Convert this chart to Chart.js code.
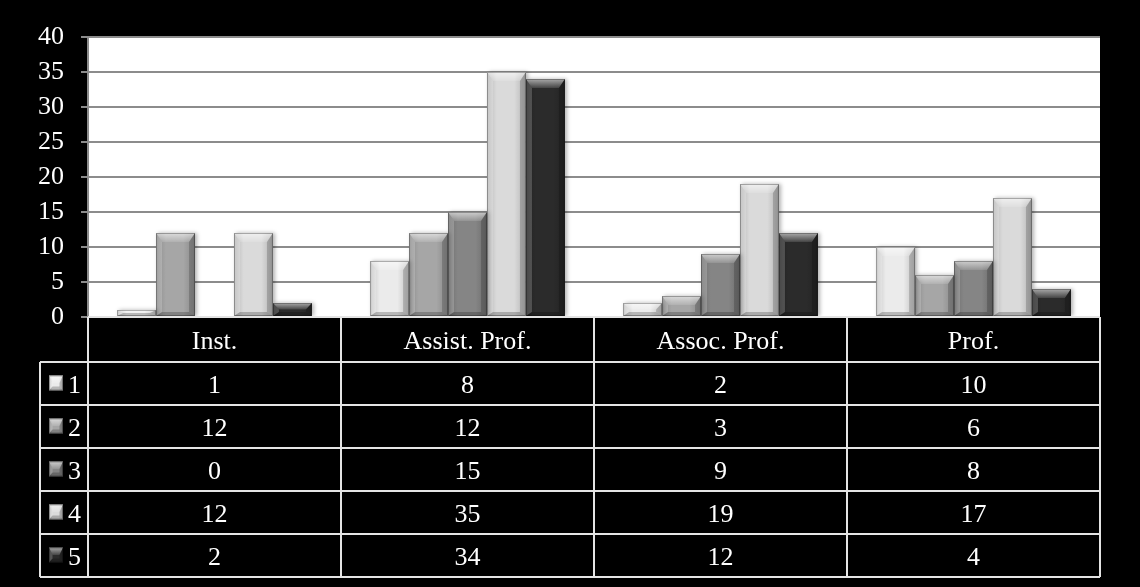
<!DOCTYPE html>
<html>
<head>
<meta charset="utf-8">
<script src="https://cdn.jsdelivr.net/npm/chart.js@4.4.1/dist/chart.umd.min.js"></script>
<style>
  html, body { margin: 0; padding: 0; background: #000; }
  #wrap { width: 1140px; height: 587px; }
</style>
</head>
<body>
<div id="wrap"><canvas id="chartRanks"></canvas></div>
<script>
const categories = ["Inst.", "Assist. Prof.", "Assoc. Prof.", "Prof."];
const seriesNames = ["1", "2", "3", "4", "5"];
const series1 = [1, 8, 2, 10];
const series2 = [12, 12, 3, 6];
const series3 = [0, 15, 9, 8];
const series4 = [12, 35, 19, 17];
const series5 = [2, 34, 12, 4];
const yTickValues = [0, 5, 10, 15, 20, 25, 30, 35, 40];

const seriesValues = [series1, series2, series3, series4, series5];
const seriesColors = ["#ebebeb", "#a6a6a6", "#858585", "#dadada", "#2b2b2b"];
const FONT = "26px 'Liberation Serif', 'Times New Roman', serif";

function poly(ctx, pts, fill) {
  ctx.beginPath();
  ctx.moveTo(pts[0][0], pts[0][1]);
  for (let i = 1; i < pts.length; i++) ctx.lineTo(pts[i][0], pts[i][1]);
  ctx.closePath();
  ctx.fillStyle = fill;
  ctx.fill();
}

// beveled facets laid over a filled rectangle
function bevel(ctx, left, top, w, h) {
  if (h < 1 || w < 1) return;
  const right = left + w, bottom = top + h;
  const bt = Math.min(9, h / 2), bs = Math.min(6, w / 4), bb = Math.min(4, h / 2);
  ctx.save();
  const body = ctx.createLinearGradient(left, 0, right, 0);
  body.addColorStop(0, "rgba(0,0,0,0.16)");
  body.addColorStop(0.25, "rgba(0,0,0,0)");
  body.addColorStop(0.7, "rgba(0,0,0,0)");
  body.addColorStop(1, "rgba(0,0,0,0.18)");
  ctx.fillStyle = body;
  ctx.fillRect(left, top, w, h);

  const topG = ctx.createLinearGradient(0, top, 0, top + bt);
  topG.addColorStop(0, "rgba(255,255,255,0.6)");
  topG.addColorStop(1, "rgba(255,255,255,0.12)");
  poly(ctx, [[left, top], [right, top], [right - bs, top + bt], [left + bs, top + bt]], topG);
  poly(ctx, [[left, top], [left + bs, top + bt], [left + bs, bottom - bb], [left, bottom]], "rgba(255,255,255,0.2)");
  poly(ctx, [[right, top], [right - bs, top + bt], [right - bs, bottom - bb], [right, bottom]], "rgba(0,0,0,0.18)");
  poly(ctx, [[left, bottom], [left + bs, bottom - bb], [right - bs, bottom - bb], [right, bottom]], "rgba(0,0,0,0.22)");

  ctx.strokeStyle = "rgba(0,0,0,0.3)";
  ctx.lineWidth = 1;
  ctx.strokeRect(left + 0.5, top + 0.5, w - 1, h - 1);
  ctx.restore();
}

const plotBackground = {
  id: "plotBackground",
  beforeDraw(chart) {
    const { ctx, chartArea: a } = chart;
    ctx.save();
    ctx.fillStyle = "#000";
    ctx.fillRect(0, 0, chart.width, chart.height);
    ctx.fillStyle = "#fff";
    ctx.fillRect(a.left, a.top, a.right - a.left, a.bottom - a.top);
    ctx.restore();
  },
};

const barShadow = {
  id: "barShadow",
  beforeDatasetDraw(chart) {
    const ctx = chart.ctx;
    ctx.save();
    ctx.shadowColor = "rgba(0,0,0,0.3)";
    ctx.shadowBlur = 4;
    ctx.shadowOffsetX = 2;
  },
  afterDatasetDraw(chart) {
    chart.ctx.restore();
  },
};

const barBevel = {
  id: "barBevel",
  afterDatasetsDraw(chart) {
    const ctx = chart.ctx;
    chart.data.datasets.forEach((ds, i) => {
      chart.getDatasetMeta(i).data.forEach((bar) => {
        const p = bar.getProps(["x", "y", "base", "width"], true);
        const top = Math.min(p.y, p.base);
        bevel(ctx, p.x - p.width / 2, top, p.width, Math.abs(p.base - p.y));
      });
    });
  },
};

// data table under the plot: header row with categories, one row per series
const dataTable = {
  id: "dataTable",
  afterDraw(chart) {
    const { ctx, chartArea: a } = chart;
    const headerH = 45, rowH = 43, legendLeft = 40;
    const colW = (a.right - a.left) / categories.length;
    const cols = categories.map((_, i) => a.left + i * colW).concat(a.right);
    const rowTop = (r) => a.bottom + headerH + r * rowH;

    ctx.save();
    ctx.strokeStyle = "#e4e4e4";
    ctx.lineWidth = 2;
    ctx.beginPath();
    ctx.moveTo(a.left, a.bottom);
    ctx.lineTo(a.right, a.bottom);
    cols.forEach((x) => {
      ctx.moveTo(x, a.bottom);
      ctx.lineTo(x, rowTop(seriesNames.length));
    });
    for (let r = 0; r <= seriesNames.length; r++) {
      ctx.moveTo(legendLeft, rowTop(r));
      ctx.lineTo(a.right, rowTop(r));
    }
    ctx.moveTo(legendLeft, rowTop(0));
    ctx.lineTo(legendLeft, rowTop(seriesNames.length));
    ctx.stroke();

    ctx.fillStyle = "#fff";
    ctx.font = FONT;
    ctx.textBaseline = "alphabetic";
    ctx.textAlign = "center";
    const capOff = 9;
    categories.forEach((c, i) => {
      ctx.fillText(c, cols[i] + colW / 2, a.bottom + headerH / 2 + capOff);
    });
    seriesNames.forEach((name, r) => {
      const cy = rowTop(r) + rowH / 2;
      seriesValues[r].forEach((v, i) => {
        ctx.fillStyle = "#fff";
        ctx.textAlign = "center";
        ctx.fillText(String(v), cols[i] + colW / 2, cy + capOff);
      });
      ctx.fillStyle = seriesColors[r];
      ctx.fillRect(49, cy - 8, 14, 15);
      bevel(ctx, 49, cy - 8, 14, 15);
      ctx.fillStyle = "#fff";
      ctx.textAlign = "left";
      ctx.fillText(name, 68, cy + capOff);
    });
    ctx.restore();
  },
};

new Chart(document.getElementById("chartRanks").getContext("2d"), {
  type: "bar",
  data: {
    labels: categories,
    datasets: seriesNames.map((name, i) => ({
      label: name,
      data: seriesValues[i],
      backgroundColor: seriesColors[i],
      borderWidth: 0,
      barPercentage: 1,
      categoryPercentage: 0.77,
    })),
  },
  options: {
    responsive: true,
    maintainAspectRatio: false,
    animation: false,
    layout: { padding: { top: 37, right: 40, bottom: 270, left: 0 } },
    plugins: { legend: { display: false }, tooltip: { enabled: false } },
    scales: {
      x: { display: false, offset: true },
      y: {
        min: 0,
        max: 40,
        afterBuildTicks(scale) {
          scale.ticks = yTickValues.map((v) => ({ value: v }));
        },
        afterFit(scale) {
          scale.width = 88;
        },
        ticks: {
          color: "#fff",
          padding: 17,
          font: { family: "'Liberation Serif', 'Times New Roman', serif", size: 26 },
        },
        grid: { color: "#8c8c8c", lineWidth: 2, tickLength: 7 },
        border: { display: true, color: "#8c8c8c", width: 2 },
      },
    },
  },
  plugins: [plotBackground, barShadow, barBevel, dataTable],
});
</script>
</body>
</html>
